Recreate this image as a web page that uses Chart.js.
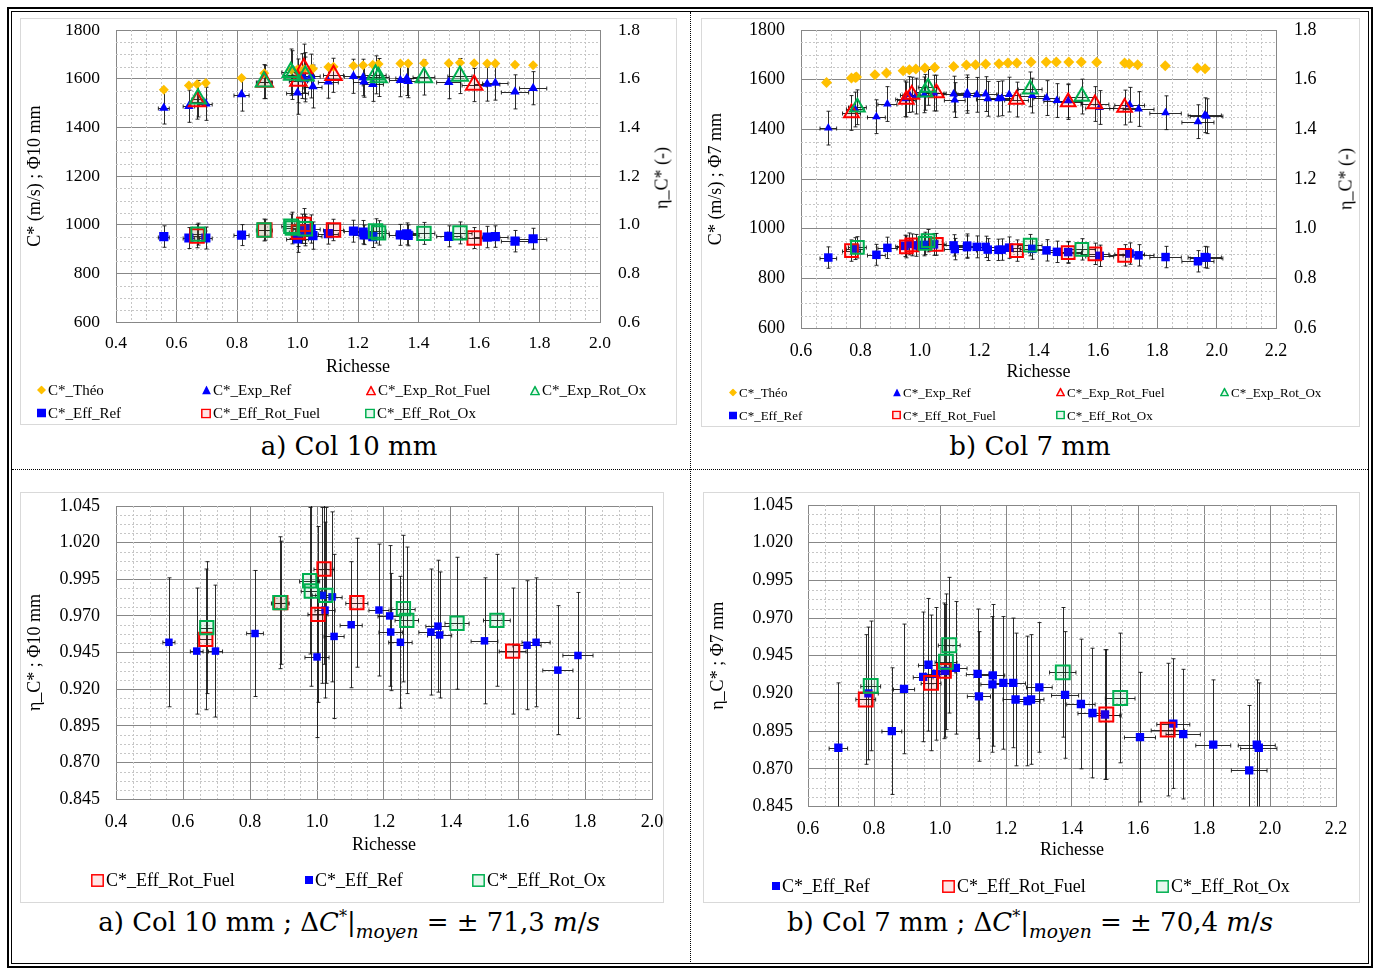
<!DOCTYPE html>
<html><head><meta charset="utf-8">
<script src="https://cdn.jsdelivr.net/npm/chart.js@4.4.1/dist/chart.umd.min.js"></script>
<style>
body{margin:0;background:#fff;}
#page{position:relative;width:1378px;height:970px;overflow:hidden;background:#fff;font-family:"Liberation Serif","Times New Roman",serif;color:#000;}
.box{position:absolute;box-sizing:border-box;}
canvas{position:absolute;}
.leg{position:absolute;white-space:nowrap;display:flex;align-items:center;transform:translateY(-50%);line-height:1;}
.leg svg{margin-right:2px;flex:none;}
.cap{position:absolute;font-family:"DejaVu Serif",serif;font-size:26px;white-space:nowrap;transform:translate(-50%,-50%);line-height:1.2;}
.cap sub{font-size:0.72em;vertical-align:-0.35em;}
.cap sup{font-size:0.62em;vertical-align:0.6em;}
.rt{position:absolute;font-size:18px;white-space:nowrap;transform:translate(-50%,-50%) rotate(-90deg);}
</style></head>
<body><div id="page">
<div class="box" style="left:7px;top:7px;width:1366px;height:961px;border:2px solid #000"></div>
<div class="box" style="left:11px;top:11px;width:1358px;height:953px;border:1px solid #000"></div>
<div class="box" style="left:690px;top:12px;width:0;height:952px;border-left:1px dotted #000"></div>
<div class="box" style="left:12px;top:469px;width:1356px;height:0;border-top:1px dotted #000"></div>
<div class="box" style="left:20px;top:18px;width:657px;height:407px;border:1px solid #d9d9d9"></div>
<div class="box" style="left:701px;top:18px;width:659px;height:409px;border:1px solid #d9d9d9"></div>
<div class="box" style="left:20px;top:492px;width:644px;height:411px;border:1px solid #d9d9d9"></div>
<div class="box" style="left:703px;top:492px;width:657px;height:411px;border:1px solid #d9d9d9"></div>
<canvas id="c1" width="657" height="407" style="left:20px;top:18px"></canvas>
<canvas id="c2" width="659" height="409" style="left:701px;top:18px"></canvas>
<canvas id="c3" width="644" height="411" style="left:20px;top:492px"></canvas>
<canvas id="c4" width="657" height="411" style="left:703px;top:492px"></canvas>
<div class="rt" style="left:662px;top:178px">η_C* (-)</div>
<div class="rt" style="left:1346px;top:179px">η_C* (-)</div>
<div class="cap" style="left:349px;top:447px">a) Col 10 mm</div>
<div class="cap" style="left:1030px;top:447px">b) Col 7 mm</div>
<div class="cap" style="left:349px;top:925px">a) Col 10 mm ; Δ<i>C</i><sup>*</sup>|<sub><i>moyen</i></sub> = ± 71,3 <i>m</i>/<i>s</i></div>
<div class="cap" style="left:1030px;top:925px">b) Col 7 mm ; Δ<i>C</i><sup>*</sup>|<sub><i>moyen</i></sub> = ± 70,4 <i>m</i>/<i>s</i></div>
</div>
<script>
// ---------- tick labels ----------
const X10_TICKS = [0.4,0.6,0.8,1.0,1.2,1.4,1.6,1.8,2.0];
const X7_TICKS = [0.6,0.8,1.0,1.2,1.4,1.6,1.8,2.0,2.2];
const C_TICKS = [600,800,1000,1200,1400,1600,1800];
const ETA_TICKS = [0.6,0.8,1.0,1.2,1.4,1.6,1.8];
const ETAZ_TICKS = [0.845,0.870,0.895,0.920,0.945,0.970,0.995,1.020,1.045];

// ---------- series labels ----------
const L_THEO='C*_Théo', L_EXPREF='C*_Exp_Ref', L_EXPFUEL='C*_Exp_Rot_Fuel', L_EXPOX='C*_Exp_Rot_Ox';
const L_EFFREF='C*_Eff_Ref', L_EFFFUEL='C*_Eff_Rot_Fuel', L_EFFOX='C*_Eff_Rot_Ox';

// ---------- Col 10 mm ----------
const R10_theo = [0.558,0.641,0.668,0.697,0.815,0.890,0.980,1.000,1.021,1.045,1.051,1.102,1.119,1.185,1.217,1.249,1.268,1.340,1.366,1.418,1.500,1.537,1.584,1.627,1.654,1.719,1.779];
const C10_theo = [1555,1572,1577,1582,1603,1622,1636,1638,1639,1640,1641,1648,1649,1653,1655,1657,1660,1662,1662,1664,1664,1666,1664,1662,1662,1657,1655];

const R10_ref   = [0.558,0.641,0.697,0.815,1.000,1.016,1.024,1.045,1.051,1.102,1.185,1.217,1.220,1.249,1.340,1.361,1.366,1.500,1.627,1.654,1.719,1.779];
const DR10_ref  = [0.018,0.019,0.021,0.025,0.036,0.030,0.030,0.030,0.030,0.033,0.030,0.035,0.035,0.035,0.036,0.036,0.036,0.040,0.042,0.042,0.045,0.045];
const ETA10_ref = [0.952,0.946,0.946,0.958,0.942,0.984,0.974,0.983,0.956,0.964,0.974,0.970,0.959,0.952,0.959,0.963,0.957,0.953,0.950,0.952,0.933,0.943];
const DETA10_ref= [0.044,0.043,0.045,0.043,0.055,0.060,0.060,0.058,0.056,0.043,0.045,0.048,0.040,0.045,0.043,0.045,0.043,0.043,0.044,0.044,0.044,0.043];
const C10_expRef = [1480,1487,1497,1535,1542,1611,1597,1611,1568,1588,1610,1605,1588,1577,1594,1601,1590,1586,1578,1582,1546,1561];
const DC10_expRef= [66,66,68,68,88,92,92,90,88,68,70,75,64,70,68,70,68,68,70,70,70,68];

const R10_fuel   = [0.668,0.892,1.003,1.021,1.119,1.584];
const DR10_fuel  = [0.020,0.025,0.030,0.030,0.033,0.040];
const ETA10_fuel = [0.954,0.979,0.971,1.002,0.979,0.946];
const DETA10_fuel= [0.048,0.042,0.060,0.065,0.044,0.043];
const C10_expFuel = [1506,1587,1591,1642,1614,1574];
const DC10_expFuel= [72,68,90,100,70,68];

const R10_ox   = [0.671,0.889,0.978,0.983,1.026,1.258,1.268,1.418,1.537];
const DR10_ox  = [0.020,0.025,0.030,0.030,0.030,0.035,0.035,0.036,0.040];
const ETA10_ox = [0.962,0.979,0.994,0.987,0.984,0.975,0.967,0.965,0.967];
const DETA10_ox= [0.045,0.045,0.050,0.065,0.060,0.050,0.050,0.045,0.045];
const C10_expOx = [1518,1588,1627,1615,1612,1616,1605,1605,1611];
const DC10_expOx= [75,70,95,100,95,78,78,72,72];

// ---------- Col 7 mm ----------
const R7_theo = [0.686,0.770,0.783,0.787,0.849,0.888,0.944,0.965,0.987,1.017,1.050,1.114,1.157,1.188,1.222,1.267,1.297,1.327,1.375,1.426,1.460,1.502,1.544,1.596,1.690,1.706,1.734,1.827,1.935,1.961];
const C7_theo = [1589,1607,1609,1611,1620,1627,1636,1640,1643,1647,1649,1653,1659,1660,1663,1664,1667,1667,1671,1671,1671,1671,1671,1670,1667,1663,1660,1656,1647,1644];

const R7_ref   = [0.692,0.783,0.854,0.891,0.949,0.965,0.988,1.015,1.048,1.114,1.118,1.159,1.160,1.192,1.222,1.229,1.265,1.276,1.301,1.379,1.427,1.462,1.500,1.606,1.707,1.737,1.828,1.937,1.960,1.966];
const DR7_ref  = [0.028,0.030,0.030,0.032,0.030,0.030,0.032,0.033,0.034,0.034,0.035,0.035,0.036,0.037,0.037,0.038,0.038,0.039,0.039,0.041,0.043,0.044,0.045,0.047,0.050,0.052,0.053,0.054,0.056,0.055];
const ETA7_ref = [0.884,0.920,0.895,0.923,0.931,0.939,0.933,0.935,0.937,0.933,0.918,0.926,0.932,0.927,0.927,0.916,0.915,0.916,0.924,0.919,0.913,0.907,0.906,0.891,0.900,0.893,0.886,0.869,0.886,0.884];
const DETA7_ref= [0.043,0.044,0.042,0.043,0.043,0.044,0.044,0.044,0.044,0.043,0.043,0.045,0.047,0.044,0.043,0.044,0.043,0.043,0.043,0.042,0.043,0.043,0.043,0.043,0.043,0.043,0.043,0.043,0.043,0.043];
const C7_expRef = [1405,1480,1451,1502,1523,1540,1534,1539,1546,1542,1518,1537,1547,1539,1542,1523,1523,1525,1540,1536,1526,1516,1515,1488,1499,1482,1467,1431,1457,1453];
const DC7_expRef= [68,70,68,70,72,72,72,72,72,72,70,72,72,70,70,70,70,70,70,70,70,68,68,68,70,70,68,68,70,70];

// top panel (rotation fuel)
const R7_fuel   = [0.770,0.955,0.973,1.056,1.326,1.500,1.590,1.690];
const DR7_fuel  = [0.030,0.030,0.030,0.033,0.040,0.045,0.047,0.050];
const ETA7_fuel = [0.912,0.927,0.935,0.937,0.912,0.904,0.899,0.893];
const DETA7_fuel= [0.043,0.044,0.044,0.044,0.043,0.043,0.043,0.043];
const C7_expFuel = [1466,1520,1540,1546,1520,1510,1502,1488];
const DC7_expFuel= [70,70,70,72,70,70,70,70];
// bottom panel (rotation fuel)
const R7_fuelB   = [0.775,0.973,1.012,1.504,1.690];
const DR7_fuelB  = [0.030,0.030,0.033,0.045,0.050];
const ETA7_fuelB = [0.916,0.927,0.935,0.906,0.896];
const DETA7_fuelB= [0.043,0.045,0.045,0.043,0.044];

const R7_ox   = [0.790,1.018,1.028,1.372,1.546];
const DR7_ox  = [0.030,0.033,0.033,0.040,0.045];
const ETA7_ox = [0.925,0.941,0.952,0.934,0.917];
const DETA7_ox= [0.043,0.045,0.045,0.043,0.043];
const C7_expOx = [1489,1549,1569,1561,1532];
const DC7_expOx= [70,72,72,70,70];

// ---------- styles ----------
const FONT = "'Liberation Serif','Times New Roman',serif";
const BLUE='#0000FF', RED='#FF0000', GREEN='#00B050', ORANGE='#FFC000';
const RED_F='rgba(255,0,0,0.10)', GREEN_F='rgba(0,176,80,0.10)';
const GRID='#878787';

function xy(xs, ys){ return xs.map((x,i)=>({x:x, y:ys[i]})); }

const gridErr = {
  id:'gridErr',
  beforeDatasetsDraw(chart, args, o){
    const ctx=chart.ctx, a=chart.chartArea;
    ctx.save();
    ctx.beginPath(); ctx.rect(a.left,a.top,a.right-a.left,a.bottom-a.top); ctx.clip();
    const sx=chart.scales.x, sy=chart.scales.y;
    ctx.strokeStyle='#c6c6c6'; ctx.lineWidth=1; ctx.setLineDash([2,2]);
    ctx.beginPath();
    const n1=Math.round((sx.max-sx.min)/o.minorX), r1=Math.round(o.majorX/o.minorX);
    for(let k=1;k<n1;k++){ if(k%r1===0) continue; const p=Math.round(sx.getPixelForValue(sx.min+k*o.minorX))+0.5; ctx.moveTo(p,a.top); ctx.lineTo(p,a.bottom); }
    const n2=Math.round((sy.max-sy.min)/o.minorY), r2=Math.round(o.majorY/o.minorY);
    for(let k=1;k<n2;k++){ if(k%r2===0) continue; const p=Math.round(sy.getPixelForValue(sy.min+k*o.minorY))+0.5; ctx.moveTo(a.left,p); ctx.lineTo(a.right,p); }
    ctx.stroke();
    ctx.setLineDash([]);
    ctx.strokeStyle='rgba(20,20,20,0.9)'; ctx.lineWidth=1;
    chart.data.datasets.forEach(ds=>{
      if(!ds.errX && !ds.errY) return;
      const xs=chart.scales[ds.xAxisID||'x'], ys=chart.scales[ds.yAxisID||'y'];
      const c=2;
      ctx.beginPath();
      ds.data.forEach((p,i)=>{
        const px=Math.round(xs.getPixelForValue(p.x))+0.5, py=Math.round(ys.getPixelForValue(p.y))+0.5;
        if(ds.errY){ const e=ds.errY[i]; const t=ys.getPixelForValue(p.y+e), b=ys.getPixelForValue(p.y-e);
          ctx.moveTo(px,t); ctx.lineTo(px,b); ctx.moveTo(px-c,t); ctx.lineTo(px+c,t); ctx.moveTo(px-c,b); ctx.lineTo(px+c,b); }
        if(ds.errX){ const e=ds.errX[i]; const l=xs.getPixelForValue(p.x-e), r=xs.getPixelForValue(p.x+e);
          ctx.moveTo(l,py); ctx.lineTo(r,py); ctx.moveTo(l,py-c); ctx.lineTo(l,py+c); ctx.moveTo(r,py-c); ctx.lineTo(r,py+c); }
      });
      ctx.stroke();
    });
    ctx.restore();
  }
};

function ds(label, xs, ys, ex, ey, style, yAxis, order){
  return Object.assign({label:label, data:xy(xs,ys), errX:ex, errY:ey, yAxisID:yAxis||'y', order:order, showLine:false}, style);
}
function st(shape, r, color, fill, bw){
  return {pointStyle:shape, pointRadius:r, pointHoverRadius:r, pointBackgroundColor:fill||color,
          pointBorderColor:color, pointBorderWidth:bw||0, pointHoverBorderWidth:bw||0};
}
function noPad(s){ s.paddingTop=0; s.paddingBottom=0; s.paddingLeft=0; s.paddingRight=0; }

function build(id, c){
  const scales = {
    x:{type:'linear', position:'bottom', min:c.xT[0], max:c.xT[c.xT.length-1],
       afterBuildTicks:s=>{ s.ticks=c.xT.map(v=>({value:v})); },
       afterFit:s=>{ s.height=c.xH; noPad(s); },
       ticks:{autoSkip:false, maxRotation:0, padding:c.xPad, color:'#000', font:{family:FONT,size:c.fs}, callback:v=>Number(v).toFixed(1)},
       grid:{color:GRID, lineWidth:1, drawTicks:false},
       border:{color:GRID},
       title:{display:true, text:'Richesse', color:'#000', font:{family:FONT,size:18}, padding:0}},
    y:{type:'linear', position:'left', min:c.yT[0], max:c.yT[c.yT.length-1],
       afterBuildTicks:s=>{ s.ticks=c.yT.map(v=>({value:v})); },
       afterFit:s=>{ s.width=c.yW; noPad(s); },
       ticks:{autoSkip:false, padding:c.yPad, color:'#000', font:{family:FONT,size:c.fs}, callback:c.yFmt},
       grid:{color:GRID, lineWidth:1, drawTicks:false},
       border:{color:GRID},
       title:{display:true, text:c.yTitle, color:'#000', font:{family:FONT,size:18}, padding:{top:4,bottom:0}}}
  };
  if(c.y2T){
    scales.y2 = {type:'linear', position:'right', min:c.y2T[0], max:c.y2T[c.y2T.length-1],
       afterBuildTicks:s=>{ s.ticks=c.y2T.map(v=>({value:v})); },
       afterFit:s=>{ s.width=c.y2W; noPad(s); },
       ticks:{autoSkip:false, padding:c.y2Pad, color:'#000', font:{family:FONT,size:c.fs}, callback:v=>Number(v).toFixed(1)},
       grid:{drawOnChartArea:false, drawTicks:false, color:GRID},
       border:{color:GRID}};
  }
  return new Chart(document.getElementById(id), {
    type:'scatter',
    data:{datasets:c.datasets},
    options:{responsive:false, animation:false, devicePixelRatio:1,
      layout:{padding:c.pad},
      scales:scales,
      plugins:{legend:{display:false}, tooltip:{enabled:false},
        gridErr:{minorX:0.05, majorX:0.2, minorY:c.minorY, majorY:c.majorY}}},
    plugins:[gridErr]
  });
}

// ---------- chart 1 : Col 10 mm ----------
build('c1', {
  xT:X10_TICKS, yT:C_TICKS, y2T:ETA_TICKS, fs:17.5, xH:55.7, xPad:11, yW:96, yPad:16, y2W:77, y2Pad:18,
  yFmt:v=>String(Math.round(v)), yTitle:'C* (m/s) ; Φ10 mm', minorY:50, majorY:200,
  pad:{left:0,right:0,top:12,bottom:47},
  datasets:[
    ds(L_THEO, R10_theo, C10_theo, null, null, st('rectRot',5,ORANGE), 'y', 6),
    ds(L_EXPREF, R10_ref, C10_expRef, DR10_ref, DC10_expRef, st('triangle',5.5,BLUE), 'y', 5),
    ds(L_EXPFUEL, R10_fuel, C10_expFuel, DR10_fuel, DC10_expFuel, st('triangle',9.5,RED,RED_F,2), 'y', 1),
    ds(L_EXPOX, R10_ox, C10_expOx, DR10_ox, DC10_expOx, st('triangle',9.5,GREEN,GREEN_F,2), 'y', 0),
    ds(L_EFFREF, R10_ref, ETA10_ref, DR10_ref, DETA10_ref, st('rect',6.5,BLUE), 'y2', 4),
    ds(L_EFFFUEL, R10_fuel, ETA10_fuel, DR10_fuel, DETA10_fuel, st('rect',9.5,RED,RED_F,2), 'y2', 3),
    ds(L_EFFOX, R10_ox, ETA10_ox, DR10_ox, DETA10_ox, st('rect',9.5,GREEN,GREEN_F,2), 'y2', 2)
  ]
});

// ---------- chart 2 : Col 7 mm ----------
build('c2', {
  xT:X7_TICKS, yT:C_TICKS, y2T:ETA_TICKS, fs:18, xH:54.9, xPad:12.5, yW:100, yPad:16, y2W:84, y2Pad:18,
  yFmt:v=>String(Math.round(v)), yTitle:'C* (m/s) ; Φ7 mm', minorY:50, majorY:200,
  pad:{left:0,right:0,top:12,bottom:44},
  datasets:[
    ds(L_THEO, R7_theo, C7_theo, null, null, st('rectRot',5.5,ORANGE), 'y', 6),
    ds(L_EXPREF, R7_ref, C7_expRef, DR7_ref, DC7_expRef, st('triangle',5,BLUE), 'y', 5),
    ds(L_EXPFUEL, R7_fuel, C7_expFuel, DR7_fuel, DC7_expFuel, st('triangle',8.5,RED,RED_F,2), 'y', 1),
    ds(L_EXPOX, R7_ox, C7_expOx, DR7_ox, DC7_expOx, st('triangle',8.5,GREEN,GREEN_F,2), 'y', 0),
    ds(L_EFFREF, R7_ref, ETA7_ref, DR7_ref, DETA7_ref, st('rect',6,BLUE), 'y2', 4),
    ds(L_EFFFUEL, R7_fuel, ETA7_fuel, DR7_fuel, DETA7_fuel, st('rect',9,RED,RED_F,2), 'y2', 3),
    ds(L_EFFOX, R7_ox, ETA7_ox, DR7_ox, DETA7_ox, st('rect',9,GREEN,GREEN_F,2), 'y2', 2)
  ]
});

// ---------- chart 3 : η, Col 10 mm ----------
build('c3', {
  xT:X10_TICKS, yT:ETAZ_TICKS, fs:18, xH:56.9, xPad:12.5, yW:96, yPad:16,
  yFmt:v=>Number(v).toFixed(3), yTitle:'η_C* ; Φ10 mm', minorY:0.00625, majorY:0.025,
  pad:{left:0,right:12,top:14,bottom:47},
  datasets:[
    ds(L_EFFFUEL, R10_fuel, ETA10_fuel, DR10_fuel, DETA10_fuel, st('rect',9.4,RED,RED_F,2), 'y', 1),
    ds(L_EFFREF, R10_ref, ETA10_ref, DR10_ref, DETA10_ref, st('rect',5.3,BLUE), 'y', 2),
    ds(L_EFFOX, R10_ox, ETA10_ox, DR10_ox, DETA10_ox, st('rect',9.4,GREEN,GREEN_F,2), 'y', 0)
  ]
});

// ---------- chart 4 : η, Col 7 mm ----------
build('c4', {
  xT:X7_TICKS, yT:ETAZ_TICKS, fs:18, xH:54.5, xPad:12, yW:105, yPad:15,
  yFmt:v=>Number(v).toFixed(3), yTitle:'η_C* ; Φ7 mm', minorY:0.00625, majorY:0.025,
  pad:{left:0,right:24,top:13,bottom:42},
  datasets:[
    ds(L_EFFREF, R7_ref, ETA7_ref, DR7_ref, DETA7_ref, st('rect',5.9,BLUE), 'y', 2),
    ds(L_EFFFUEL, R7_fuelB, ETA7_fuelB, DR7_fuelB, DETA7_fuelB, st('rect',9.8,RED,RED_F,2), 'y', 1),
    ds(L_EFFOX, R7_ox, ETA7_ox, DR7_ox, DETA7_ox, st('rect',9.8,GREEN,GREEN_F,2), 'y', 0)
  ]
});

// ---------- HTML legends ----------
function symbol(type, color, s){
  const fill = color===RED?RED_F:(color===GREEN?GREEN_F:'none');
  let g='';
  if(type==='dia') g=`<polygon points="${s/2},0 ${s},${s/2} ${s/2},${s} 0,${s/2}" fill="${color}"/>`;
  if(type==='tri') g=`<polygon points="${s/2},0 ${s},${s} 0,${s}" fill="${color}"/>`;
  if(type==='triH') g=`<polygon points="${s/2},1.2 ${s-0.8},${s-0.8} 0.8,${s-0.8}" fill="${fill}" stroke="${color}" stroke-width="1.5"/>`;
  if(type==='sq') g=`<rect x="0" y="0" width="${s}" height="${s}" fill="${color}"/>`;
  if(type==='sqH') g=`<rect x="0.8" y="0.8" width="${s-1.6}" height="${s-1.6}" fill="${fill}" stroke="${color}" stroke-width="1.5"/>`;
  return `<svg width="${s}" height="${s}" viewBox="0 0 ${s} ${s}">${g}</svg>`;
}
function legend(items, fs){
  const page=document.getElementById('page');
  items.forEach(([x,y,type,color,s,label])=>{
    const d=document.createElement('div');
    d.className='leg'; d.style.left=x+'px'; d.style.top=y+'px'; d.style.fontSize=fs+'px';
    d.innerHTML=symbol(type,color,s)+'<span>'+label+'</span>';
    page.appendChild(d);
  });
}
legend([
  [37,390,'dia',ORANGE,9,L_THEO],[202,390,'tri',BLUE,9,L_EXPREF],[366,390,'triH',RED,10,L_EXPFUEL],[530,390,'triH',GREEN,10,L_EXPOX],
  [37,413,'sq',BLUE,9,L_EFFREF],[201,413,'sqH',RED,10,L_EFFFUEL],[365,413,'sqH',GREEN,10,L_EFFOX]
],15);
legend([
  [729,392,'dia',ORANGE,8,L_THEO],[893,392,'tri',BLUE,8,L_EXPREF],[1056,392,'triH',RED,9,L_EXPFUEL],[1220,392,'triH',GREEN,9,L_EXPOX],
  [729,415,'sq',BLUE,8,L_EFFREF],[892,415,'sqH',RED,9,L_EFFFUEL],[1056,415,'sqH',GREEN,9,L_EFFOX]
],13);
legend([
  [91,880,'sqH',RED,13,L_EFFFUEL],[305,880,'sq',BLUE,8,L_EFFREF],[472,880,'sqH',GREEN,13,L_EFFOX]
],18);
legend([
  [772,886,'sq',BLUE,8,L_EFFREF],[942,886,'sqH',RED,13,L_EFFFUEL],[1156,886,'sqH',GREEN,13,L_EFFOX]
],18);
</script>
</body></html>
